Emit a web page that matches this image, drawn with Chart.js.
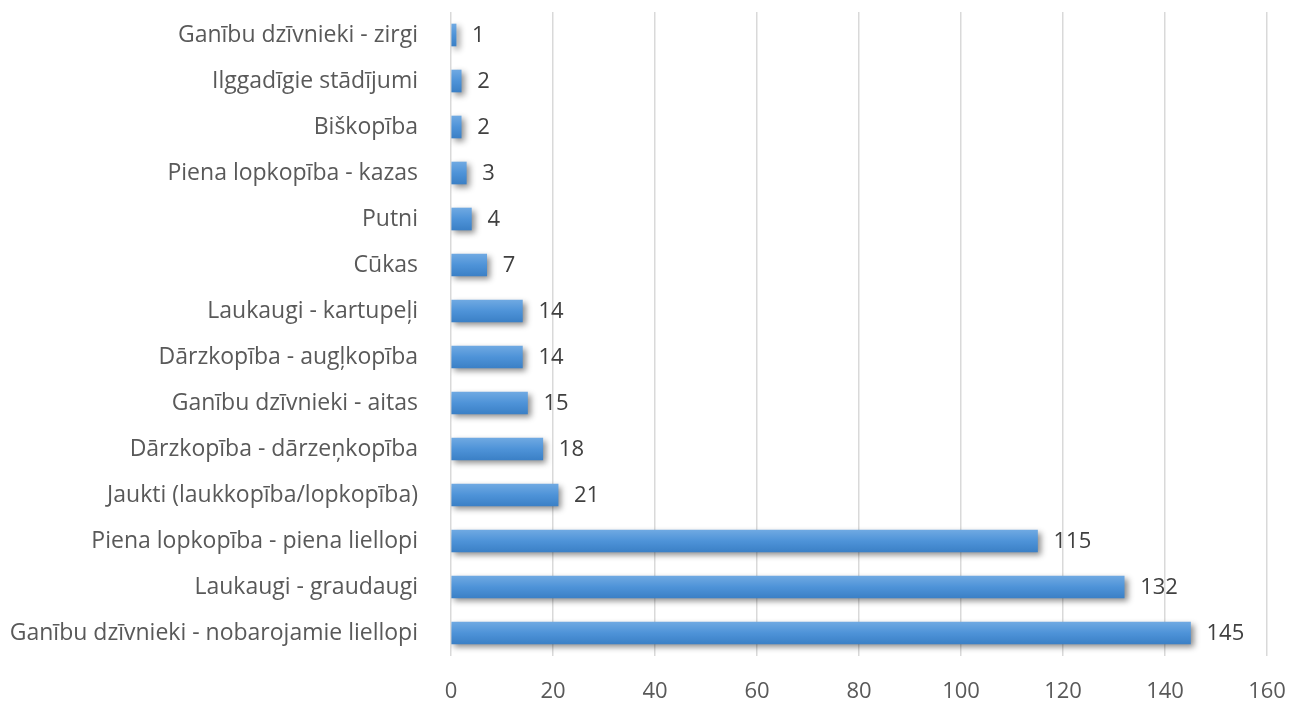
<!DOCTYPE html>
<html>
<head>
<meta charset="utf-8">
<script src="https://cdn.jsdelivr.net/npm/chart.js@4/dist/chart.umd.min.js"></script>
<style>
  body { margin: 0; background: #fff; }
</style>
</head>
<body>
<canvas id="myChart" width="1293" height="702"></canvas>
<script>
const categories = [
    "Ganību dzīvnieki - zirgi",
    "Ilggadīgie stādījumi",
    "Biškopība",
    "Piena lopkopība - kazas",
    "Putni",
    "Cūkas",
    "Laukaugi - kartupeļi",
    "Dārzkopība - augļkopība",
    "Ganību dzīvnieki - aitas",
    "Dārzkopība - dārzeņkopība",
    "Jaukti (laukkopība/lopkopība)",
    "Piena lopkopība - piena liellopi",
    "Laukaugi - graudaugi",
    "Ganību dzīvnieki - nobarojamie liellopi"
];
const counts = [1, 2, 2, 3, 4, 7, 14, 14, 15, 18, 21, 115, 132, 145];
const xTicks = [0, 20, 40, 60, 80, 100, 120, 140, 160];

const textColor = "#595959";
const fontFamily = "'Open Sans', sans-serif";

// gradient + shadow for the bars, labels at bar ends
const barLook = {
    id: "barLook",
    beforeDatasetsDraw(chart) {
        const ctx = chart.ctx;
        chart.getDatasetMeta(0).data.forEach(bar => {
            const top = bar.y - bar.height / 2;
            const g = ctx.createLinearGradient(0, top, 0, top + bar.height);
            g.addColorStop(0, "#6fa9e2");
            g.addColorStop(0.5, "#4e93d8");
            g.addColorStop(1, "#3b80c6");
            bar.options = Object.assign({}, bar.options, { backgroundColor: g });
        });
        ctx.save();
        ctx.shadowColor = "rgba(0,0,0,0.45)";
        ctx.shadowBlur = 6;
        ctx.shadowOffsetX = 3;
        ctx.shadowOffsetY = 3;
    },
    afterDatasetsDraw(chart) {
        const ctx = chart.ctx;
        ctx.restore();
        ctx.save();
        ctx.font = "22px " + fontFamily;
        ctx.fillStyle = "#404040";
        ctx.textAlign = "left";
        ctx.textBaseline = "middle";
        chart.getDatasetMeta(0).data.forEach((bar, i) => {
            ctx.fillText(String(counts[i]), bar.x + 16, bar.y + 1);
        });
        ctx.restore();
    }
};

const myChart = new Chart("myChart", {
    type: "bar",
    data: {
        labels: categories,
        datasets: [{
            data: counts,
            backgroundColor: "#4e93d8",
            barThickness: 22
        }]
    },
    options: {
        indexAxis: "y",
        responsive: false,
        animation: false,
        layout: { padding: { top: 12, right: 26, left: 0, bottom: 0 } },
        plugins: {
            legend: { display: false },
            tooltip: { enabled: false }
        },
        scales: {
            x: {
                min: 0,
                max: 160,
                afterBuildTicks: scale => { scale.ticks = xTicks.map(v => ({ value: v })); },
                afterFit: scale => {
                    scale.height = 46;
                    scale.paddingLeft = 0;
                    scale.paddingRight = 0;
                },
                grid: { color: "#d9d9d9", lineWidth: 1.5, drawTicks: false },
                border: { display: false },
                ticks: {
                    color: textColor,
                    padding: 23,
                    font: { family: fontFamily, size: 22 }
                }
            },
            y: {
                afterFit: scale => {
                    scale.width = 451;
                    scale.paddingTop = 0;
                    scale.paddingBottom = 0;
                },
                grid: { display: false },
                border: { display: false },
                ticks: {
                    color: textColor,
                    padding: 25,
                    font: { family: fontFamily, size: 23 }
                }
            }
        }
    },
    plugins: [barLook]
});
</script>
</body>
</html>
